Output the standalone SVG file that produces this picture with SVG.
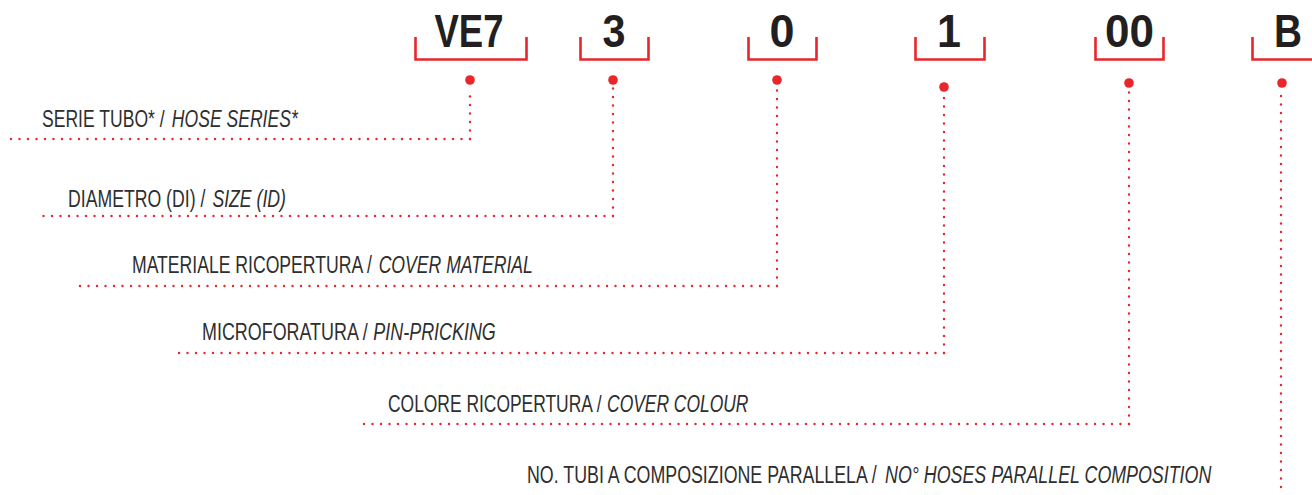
<svg xmlns="http://www.w3.org/2000/svg" width="1312" height="495" viewBox="0 0 1312 495">
<style>
.code{font-family:"Liberation Sans",Arial,sans-serif;font-weight:bold;font-size:46px;fill:#231f20;text-anchor:middle}
.lbl{font-family:"Liberation Sans",Arial,sans-serif;font-size:23px;fill:#2e2e2e}
.it{font-style:italic}
.br{fill:none;stroke:#e8262b;stroke-width:2.6}
.dot{fill:#e8262b}
.dl{fill:none;stroke:#e8262b;stroke-width:2.4;stroke-linecap:round;stroke-dasharray:0 8.5}
</style>
<rect width="1312" height="495" fill="#ffffff"/>
<g id="code-ve7">
<text class="code" x="469" y="47" textLength="69" lengthAdjust="spacingAndGlyphs">VE7</text>
<path class="br" d="M415.5 37 V59.5 H526.5 V37"/>
<circle class="dot" cx="470" cy="80" r="4.8"/>
</g>
<g id="code-3">
<text class="code" x="614" y="47" textLength="23" lengthAdjust="spacingAndGlyphs">3</text>
<path class="br" d="M580.5 37 V59.5 H648.5 V37"/>
<circle class="dot" cx="613" cy="80" r="4.8"/>
</g>
<g id="code-0">
<text class="code" x="782" y="47" textLength="25" lengthAdjust="spacingAndGlyphs">0</text>
<path class="br" d="M748.5 37 V59.5 H816.5 V37"/>
<circle class="dot" cx="777" cy="80" r="4.8"/>
</g>
<g id="code-1">
<text class="code" x="949" y="47" textLength="24" lengthAdjust="spacingAndGlyphs">1</text>
<path class="br" d="M915.5 37 V59.5 H984.5 V37"/>
<circle class="dot" cx="944" cy="87" r="4.8"/>
</g>
<g id="code-00">
<text class="code" x="1129.5" y="47" textLength="49" lengthAdjust="spacingAndGlyphs">00</text>
<path class="br" d="M1095.5 37 V59.5 H1163.5 V37"/>
<circle class="dot" cx="1129" cy="83" r="4.8"/>
</g>
<g id="code-b">
<text class="code" x="1288" y="47" textLength="28" lengthAdjust="spacingAndGlyphs">B</text>
<path class="br" d="M1252.5 37 V59.5 H1312"/>
<circle class="dot" cx="1282" cy="83" r="4.8"/>
</g>
<g id="label-serie" transform="translate(42 127) scale(0.764 1)">
<text class="lbl" x="0" y="0">SERIE TUBO* /</text>
<text class="lbl it" x="170" y="0">HOSE SERIES*</text>
</g>
<g id="label-diametro" transform="translate(68 207) scale(0.768 1)">
<text class="lbl" x="0" y="0">DIAMETRO (DI) /</text>
<text class="lbl it" x="188" y="0">SIZE (ID)</text>
</g>
<g id="label-materiale" transform="translate(132 273) scale(0.766 1)">
<text class="lbl" x="0" y="0">MATERIALE RICOPERTURA /</text>
<text class="lbl it" x="322" y="0">COVER MATERIAL</text>
</g>
<g id="label-micro" transform="translate(202 340) scale(0.779 1)">
<text class="lbl" x="0" y="0">MICROFORATURA /</text>
<text class="lbl it" x="220" y="0">PIN-PRICKING</text>
</g>
<g id="label-colore" transform="translate(388 412) scale(0.758 1)">
<text class="lbl" x="0" y="0">COLORE RICOPERTURA /</text>
<text class="lbl it" x="289" y="0">COVER COLOUR</text>
</g>
<g id="label-tubi" transform="translate(527 483) scale(0.775 1)">
<text class="lbl" x="0" y="0">NO. TUBI A COMPOSIZIONE PARALLELA /</text>
<text class="lbl it" x="462" y="0">NO° HOSES PARALLEL COMPOSITION</text>
</g>
<g id="connectors">
<path class="dl" d="M470 139 V88"/><path class="dl" d="M470 139 H8"/>
<path class="dl" d="M613 216 V88"/><path class="dl" d="M613 216 H43"/>
<path class="dl" d="M777 286 V88"/><path class="dl" d="M777 286 H77"/>
<path class="dl" d="M944 353 V95"/><path class="dl" d="M944 353 H175"/>
<path class="dl" d="M1129 424 V91"/><path class="dl" d="M1129 424 H360"/>
<path class="dl" d="M1281 487 V91"/>
</g>
</svg>
